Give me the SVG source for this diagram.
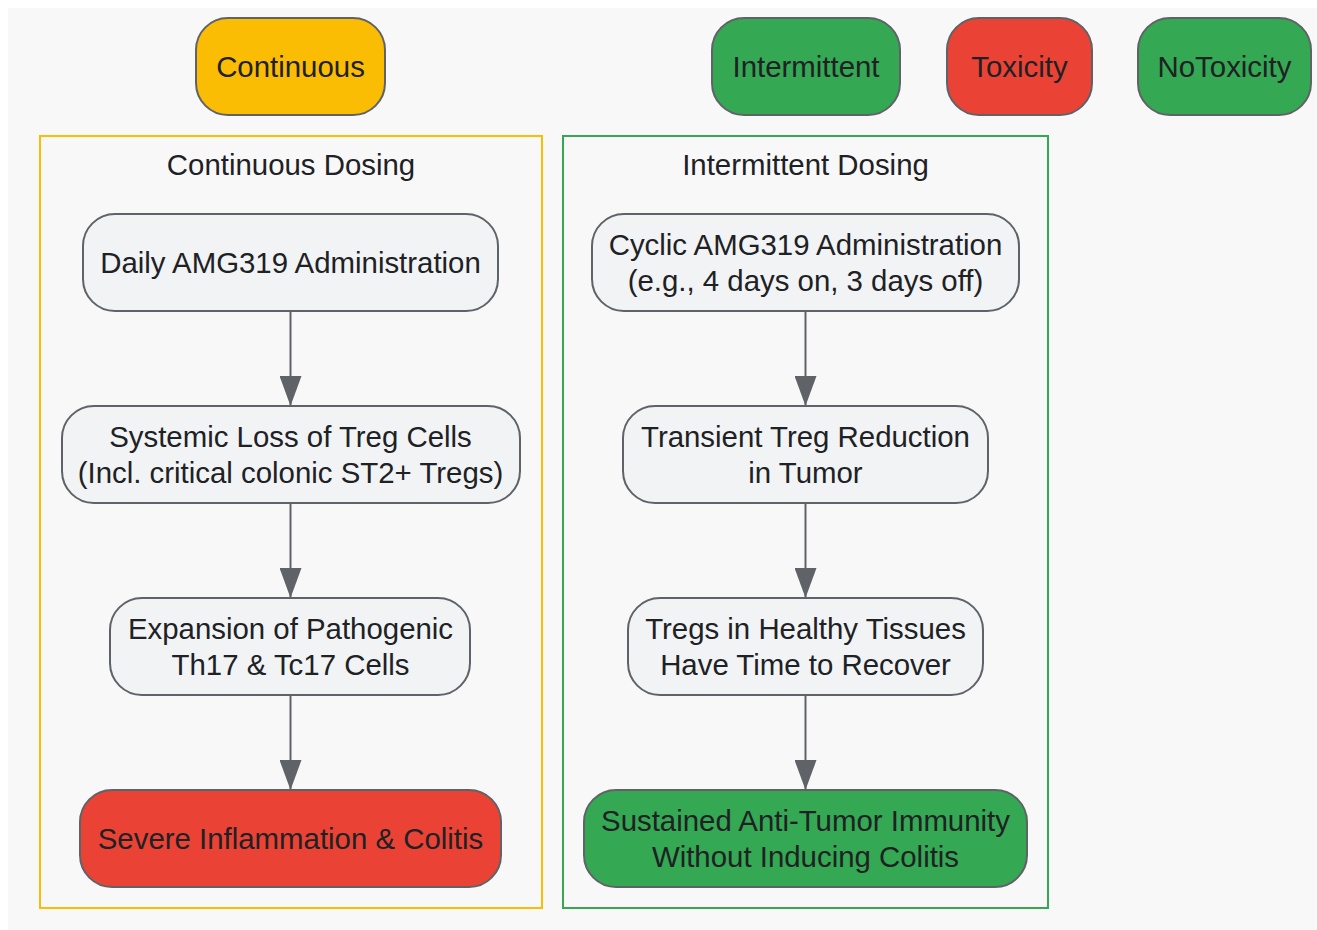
<svg xmlns="http://www.w3.org/2000/svg" width="1317" height="930" viewBox="0 0 1317 930">
<defs>
<style>
.n rect{stroke:#5f6368;stroke-width:2}
.g{fill:#f1f3f4}
.y{fill:#fbbc04}
.gr{fill:#34a853}
.r{fill:#ea4335}
text{font-family:"Liberation Sans",Arial,sans-serif;font-size:29.4px;fill:#202124;text-anchor:middle}
.e{stroke:#5f6368;stroke-width:2;fill:none}
</style>
<marker id="ah" markerWidth="30" markerHeight="22" refX="30" refY="11" orient="auto" markerUnits="userSpaceOnUse" viewBox="0 0 30 22">
<path d="M0,0 L30,11 L0,22 Z" fill="#5f6368"/>
</marker>
</defs>
<rect x="0" y="0" width="1317" height="930" fill="#ffffff"/>
<rect x="8" y="8" width="1309" height="922" fill="#f8f8f8"/>

<g id="cluster_continuous">
<rect x="40" y="136" width="502" height="772" fill="none" stroke="#fbbc04" stroke-width="2"/>
<text x="291" y="175">Continuous Dosing</text>
</g>
<g id="cluster_intermittent">
<rect x="563" y="136" width="485" height="772" fill="none" stroke="#34a853" stroke-width="2"/>
<text x="805.5" y="175">Intermittent Dosing</text>
</g>

<g id="Continuous" class="n"><rect class="y" x="196" y="18" width="189" height="97" rx="32"/><text x="290.5" y="77">Continuous</text></g>
<g id="Intermittent" class="n"><rect class="gr" x="712" y="18" width="188" height="97" rx="32"/><text x="806" y="77">Intermittent</text></g>
<g id="Toxicity" class="n"><rect class="r" x="947" y="18" width="145" height="97" rx="32"/><text x="1019.5" y="77">Toxicity</text></g>
<g id="NoToxicity" class="n"><rect class="gr" x="1138" y="18" width="173" height="97" rx="32"/><text x="1224.5" y="77">NoToxicity</text></g>

<g id="connectors">
<line class="e" x1="290.5" y1="311" x2="290.5" y2="406" marker-end="url(#ah)"/>
<line class="e" x1="290.5" y1="503" x2="290.5" y2="598" marker-end="url(#ah)"/>
<line class="e" x1="290.5" y1="695" x2="290.5" y2="790" marker-end="url(#ah)"/>
<line class="e" x1="805.5" y1="311" x2="805.5" y2="406" marker-end="url(#ah)"/>
<line class="e" x1="805.5" y1="503" x2="805.5" y2="598" marker-end="url(#ah)"/>
<line class="e" x1="805.5" y1="695" x2="805.5" y2="790" marker-end="url(#ah)"/>
</g>

<g id="Daily" class="n"><rect class="g" x="83" y="214" width="415" height="97" rx="32"/><text x="290.5" y="273">Daily AMG319 Administration</text></g>
<g id="Systemic" class="n"><rect class="g" x="62" y="406" width="458" height="97" rx="32"/><text x="290.5" y="447">Systemic Loss of Treg Cells</text><text x="290.5" y="483">(Incl. critical colonic ST2+ Tregs)</text></g>
<g id="Expansion" class="n"><rect class="g" x="110" y="598" width="360" height="97" rx="32"/><text x="290.5" y="639">Expansion of Pathogenic</text><text x="290.5" y="675">Th17 &amp; Tc17 Cells</text></g>
<g id="Severe" class="n"><rect class="r" x="80" y="790" width="421" height="97" rx="32"/><text x="290.5" y="849">Severe Inflammation &amp; Colitis</text></g>

<g id="Cyclic" class="n"><rect class="g" x="592" y="214" width="427" height="97" rx="32"/><text x="805.5" y="255">Cyclic AMG319 Administration</text><text x="805.5" y="291">(e.g., 4 days on, 3 days off)</text></g>
<g id="Transient" class="n"><rect class="g" x="623" y="406" width="365" height="97" rx="32"/><text x="805.5" y="447">Transient Treg Reduction</text><text x="805.5" y="483">in Tumor</text></g>
<g id="Recover" class="n"><rect class="g" x="628" y="598" width="355" height="97" rx="32"/><text x="805.5" y="639">Tregs in Healthy Tissues</text><text x="805.5" y="675">Have Time to Recover</text></g>
<g id="Sustained" class="n"><rect class="gr" x="584" y="790" width="443" height="97" rx="32"/><text x="805.5" y="831">Sustained Anti-Tumor Immunity</text><text x="805.5" y="867">Without Inducing Colitis</text></g>
</svg>
